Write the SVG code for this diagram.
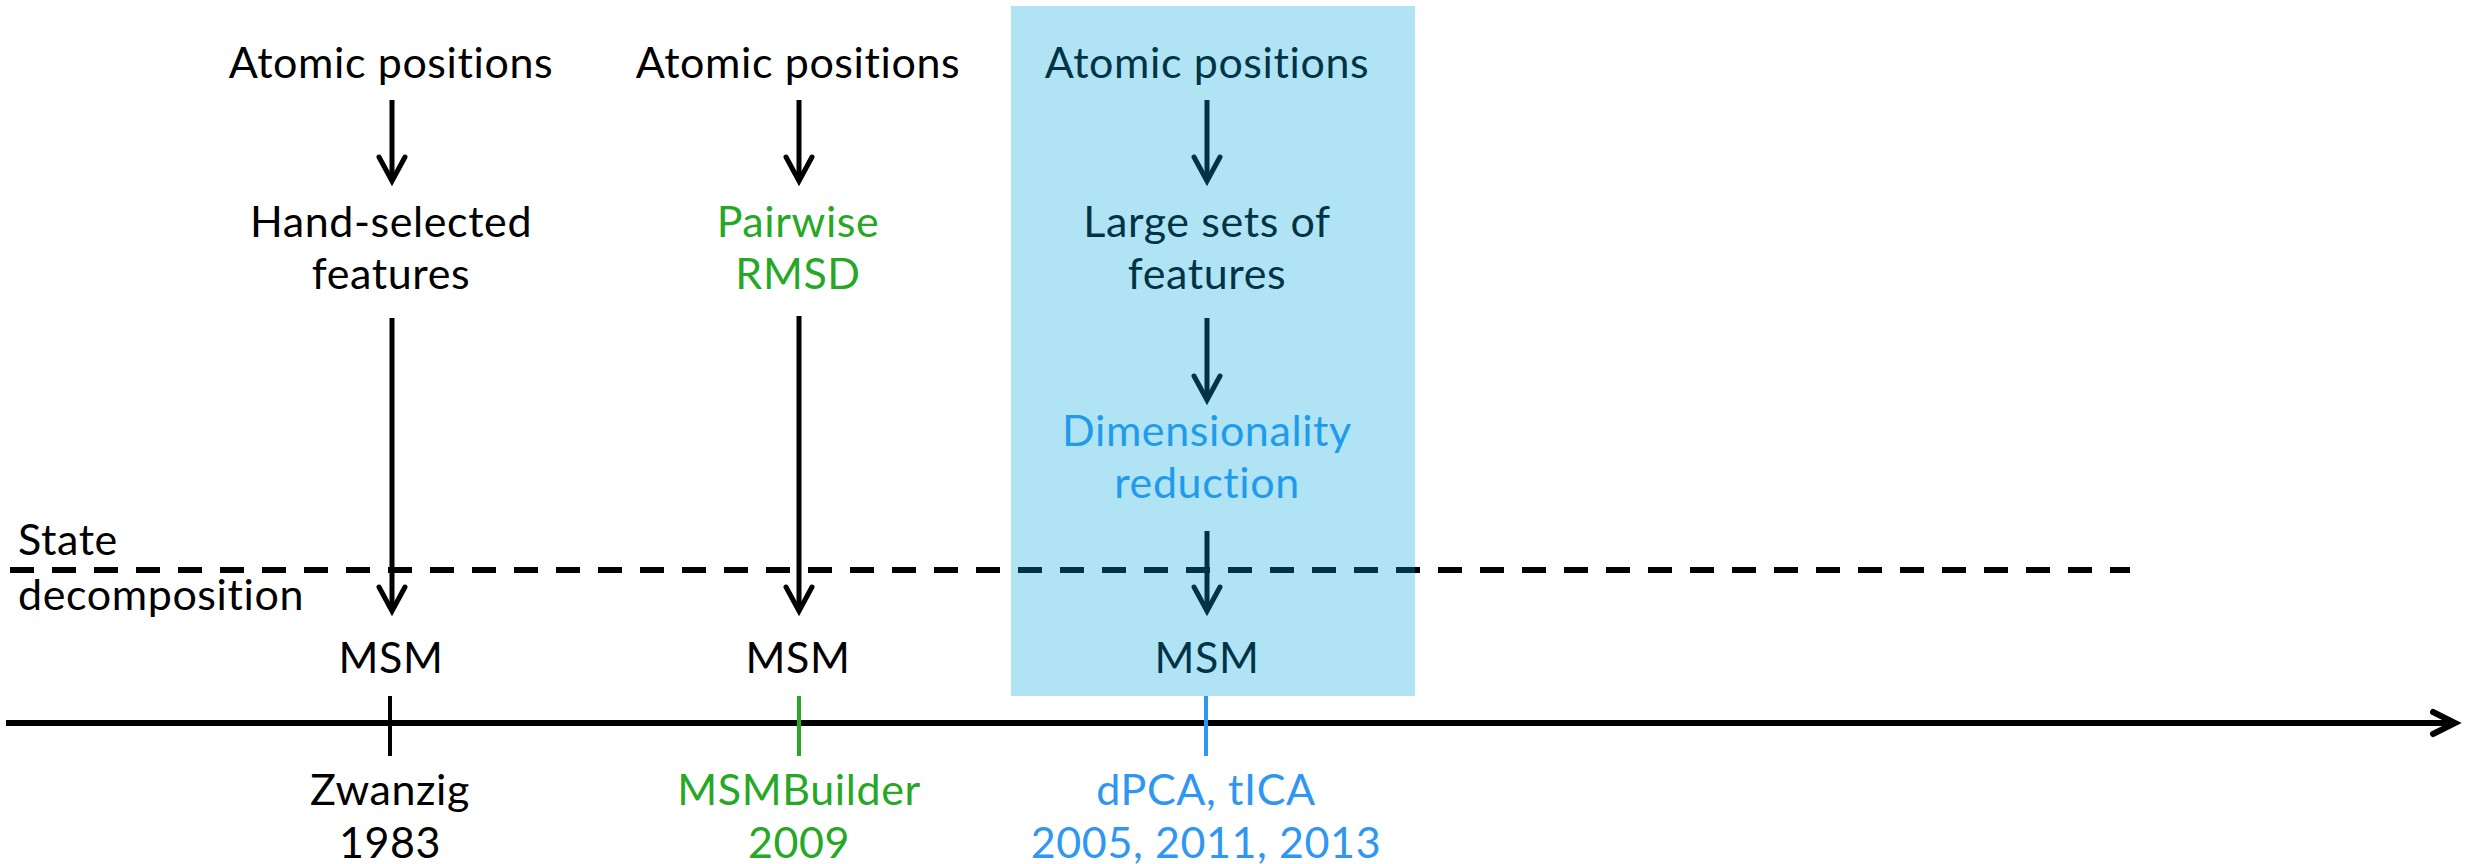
<svg xmlns="http://www.w3.org/2000/svg" width="2465" height="864" viewBox="0 0 2465 864">
<style>
  text { font-family: "Lato", "Noto Sans", "Liberation Sans", sans-serif; font-size: 43px; letter-spacing: 0.6px; text-anchor: middle; fill: #000; }
  .green { fill: #26A826; }
  .blue { fill: #2F97F2; }
  .left { text-anchor: start; }
  .arrow { stroke: #000; stroke-width: 5; fill: none; marker-end: url(#head); }
  .dash { stroke: #000; stroke-width: 6; stroke-dasharray: 24 18; fill: none; }
  .tick { stroke-width: 4; fill: none; }
</style>
<defs>
  <marker id="head" markerUnits="userSpaceOnUse" orient="auto" refX="0" refY="0" markerWidth="60" markerHeight="60" viewBox="-40 -30 60 60" overflow="visible">
    <path d="M-24,-13 L0,0 L-24,13" fill="none" stroke="#000" stroke-width="5" stroke-linecap="round" stroke-linejoin="miter"/>
  </marker>
  <marker id="bighead" markerUnits="userSpaceOnUse" orient="auto" refX="0" refY="0" markerWidth="60" markerHeight="60" viewBox="-40 -30 60 60" overflow="visible">
    <path d="M-22,-11 L0,0 L-22,11" fill="none" stroke="#000" stroke-width="6" stroke-linecap="round" stroke-linejoin="miter"/>
  </marker>
</defs>
<rect width="2465" height="864" fill="#fff"/>

<g id="connectors">
  <line class="dash" x1="10" y1="570" x2="2130" y2="570"/>
  <line x1="6" y1="723" x2="2455" y2="723" stroke="#000" stroke-width="6" marker-end="url(#bighead)"/>
  <line class="tick" x1="390" y1="696" x2="390" y2="756" stroke="#000"/>
  <line class="tick" x1="799" y1="696" x2="799" y2="756" stroke="#26A826"/>
  <line class="tick" x1="1206" y1="696" x2="1206" y2="756" stroke="#2F97F2"/>
  <line class="arrow" x1="392" y1="100" x2="392" y2="181"/>
  <line class="arrow" x1="392" y1="318" x2="392" y2="611"/>
  <line class="arrow" x1="799" y1="100" x2="799" y2="181"/>
  <line class="arrow" x1="799" y1="316" x2="799" y2="611"/>
  <line class="arrow" x1="1207" y1="100" x2="1207" y2="181"/>
  <line class="arrow" x1="1207" y1="318" x2="1207" y2="400"/>
  <line class="arrow" x1="1207" y1="531" x2="1207" y2="611"/>
</g>

<g id="label-state">
  <text class="left" x="18" y="555">State</text>
  <text class="left" x="18" y="610">decomposition</text>
</g>

<g id="col1">
  <text x="391" y="78">Atomic positions</text>
  <text x="391" y="237">Hand-selected</text>
  <text x="391" y="289">features</text>
  <text x="391" y="673">MSM</text>
  <text x="390" y="805">Zwanzig</text>
  <text x="390" y="858">1983</text>
</g>

<g id="col2">
  <text x="798" y="78">Atomic positions</text>
  <text class="green" x="798" y="237">Pairwise</text>
  <text class="green" x="798" y="289">RMSD</text>
  <text x="798" y="673">MSM</text>
  <text class="green" x="799" y="805">MSMBuilder</text>
  <text class="green" x="799" y="858">2009</text>
</g>

<g id="col3">
  <text x="1207" y="78">Atomic positions</text>
  <text x="1207" y="237">Large sets of</text>
  <text x="1207" y="289">features</text>
  <text class="blue" x="1207" y="446">Dimensionality</text>
  <text class="blue" x="1207" y="498">reduction</text>
  <text x="1207" y="673">MSM</text>
  <text class="blue" x="1206" y="805">dPCA, tICA</text>
  <text class="blue" x="1206" y="858">2005, 2011, 2013</text>
</g>

<g id="highlight">
  <rect x="1011" y="6" width="404" height="690" fill="#00A5DB" fill-opacity="0.31"/>
</g>
</svg>
